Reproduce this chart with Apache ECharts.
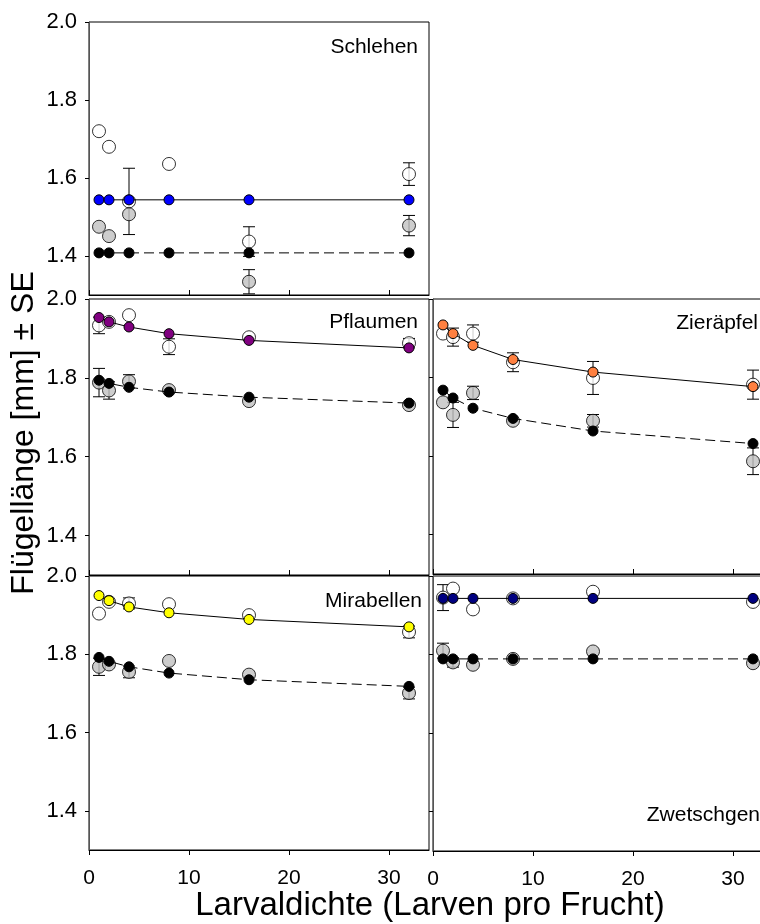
<!DOCTYPE html>
<html><head><meta charset="utf-8">
<script src="https://cdn.jsdelivr.net/npm/echarts@6/dist/echarts.min.js"></script>
<style>html,body{margin:0;padding:0;background:#fff}#c{width:760px;height:924px}</style>
</head><body><div id="c"></div>
<script>
// ---------- data ----------
const densities = [1, 2, 4, 8, 16, 32];
const xTicks = [0, 10, 20, 30];
const yTicks = [1.4, 1.6, 1.8, 2.0];
const panelNames = ['Schlehen', 'Pflaumen', 'Zieräpfel', 'Mirabellen', 'Zwetschgen'];
const fitColors = ['#0000ff', '#800080', '#ff8040', '#ffff00', '#000080'];
const yTitle = 'Flügellänge [mm] ± SE';
const xTitle = 'Larvaldichte (Larven pro Frucht)';

// Schlehen
const schlehenOpen   = [1.720, 1.680, 1.540, 1.636, 1.437, 1.610];
const schlehenOpenSE = [null, null, 0.085, null, 0.038, 0.029];
const schlehenGrey   = [1.475, 1.451, 1.507, null, 1.334, 1.478];
const schlehenGreySE = [null, null, null, null, 0.031, 0.026];
const schlehenFitA   = [1.544, 1.544, 1.544, 1.544, 1.544, 1.544];
const schlehenFitB   = [1.408, 1.408, 1.408, 1.408, 1.408, 1.408];

// Pflaumen
const pflaumenOpen   = [1.933, 1.942, 1.959, 1.879, 1.903, 1.888];
const pflaumenOpenSE = [0.021, null, null, 0.020, null, 0.012];
const pflaumenGrey   = [1.788, 1.768, 1.791, 1.769, 1.741, 1.731];
const pflaumenGreySE = [0.036, 0.022, 0.017, null, null, null];
const pflaumenFitA   = [1.953, 1.942, 1.929, 1.912, 1.895, 1.876];
const pflaumenFitB   = [1.794, 1.786, 1.776, 1.764, 1.751, 1.736];

// Zieräpfel
const zierOpen   = [1.912, 1.903, 1.912, 1.839, 1.799, 1.782];
const zierOpenSE = [null, 0.023, 0.022, 0.024, 0.042, 0.037];
const zierGrey   = [1.737, 1.705, 1.761, 1.690, 1.690, 1.587];
const zierGreySE = [null, 0.032, 0.017, null, 0.016, 0.034];
const zierFitA   = [1.934, 1.912, 1.882, 1.846, 1.814, 1.777];
const zierFitB   = [1.768, 1.748, 1.722, 1.696, 1.664, 1.632];

// Mirabellen
const miraOpen   = [1.904, 1.934, 1.930, 1.928, 1.900, 1.857];
const miraOpenSE = [null, null, 0.014, null, null, 0.015];
const miraGrey   = [1.768, 1.774, 1.755, 1.783, 1.748, 1.701];
const miraGreySE = [0.022, null, 0.015, null, null, 0.015];
const miraFitA   = [1.950, 1.937, 1.921, 1.906, 1.889, 1.870];
const miraFitB   = [1.792, 1.782, 1.768, 1.752, 1.735, 1.718];

// Zwetschgen
const zwetOpen   = [1.945, 1.968, 1.915, 1.943, 1.960, 1.934];
const zwetOpenSE = [0.033, null, null, null, null, null];
const zwetGrey   = [1.810, 1.780, 1.774, 1.789, 1.808, 1.778];
const zwetGreySE = [0.019, 0.012, null, null, null, null];
const zwetFitA   = [1.943, 1.943, 1.943, 1.943, 1.943, 1.943];
const zwetFitB   = [1.789, 1.789, 1.789, 1.789, 1.789, 1.789];

// ---------- layout ----------
const FONT = "'Liberation Sans', Arial, sans-serif";
const panels = [
  {open: schlehenOpen, openSE: schlehenOpenSE, grey: schlehenGrey, greySE: schlehenGreySE, fitA: schlehenFitA, fitB: schlehenFitB,
   grid: {left: 89, top: 22, width: 340, height: 273}, yLabels: true, xLabels: false, label: {x: 418, y: 47}},
  {open: pflaumenOpen, openSE: pflaumenOpenSE, grey: pflaumenGrey, greySE: pflaumenGreySE, fitA: pflaumenFitA, fitB: pflaumenFitB,
   grid: {left: 89, top: 299, width: 340, height: 276}, yLabels: true, xLabels: false, label: {x: 418, y: 322}},
  {open: zierOpen, openSE: zierOpenSE, grey: zierGrey, greySE: zierGreySE, fitA: zierFitA, fitB: zierFitB,
   grid: {left: 433, top: 299, width: 340, height: 275}, yLabels: false, xLabels: false, label: {x: 758, y: 323}},
  {open: miraOpen, openSE: miraOpenSE, grey: miraGrey, greySE: miraGreySE, fitA: miraFitA, fitB: miraFitB,
   grid: {left: 89, top: 576, width: 340, height: 274}, yLabels: true, xLabels: true, label: {x: 422, y: 601}},
  {open: zwetOpen, openSE: zwetOpenSE, grey: zwetGrey, greySE: zwetGreySE, fitA: zwetFitA, fitB: zwetFitB,
   grid: {left: 433, top: 576, width: 340, height: 275}, yLabels: false, xLabels: true, label: {x: 760, y: 815}}
];

function pairs(ys) {
  const out = [];
  densities.forEach((d, i) => { if (ys[i] != null) out.push([d, ys[i]]); });
  return out;
}
function errData(ys, ses) {
  const out = [];
  densities.forEach((d, i) => { if (ys[i] != null && ses[i] != null) out.push([d, ys[i], ses[i]]); });
  return out;
}
function errSeries(gi, data) {
  return {
    type: 'custom', xAxisIndex: gi, yAxisIndex: gi, data, encode: {x: 0, y: 1}, silent: true, z: 1,
    renderItem(params, api) {
      const x = api.value(0), y = api.value(1), s = api.value(2);
      const top = api.coord([x, y + s]), bot = api.coord([x, y - s]);
      const hw = 6;
      const st = {stroke: '#000', lineWidth: 1};
      return {type: 'group', children: [
        {type: 'line', shape: {x1: top[0], y1: top[1], x2: bot[0], y2: bot[1]}, style: st},
        {type: 'line', shape: {x1: top[0] - hw, y1: top[1], x2: top[0] + hw, y2: top[1]}, style: st},
        {type: 'line', shape: {x1: bot[0] - hw, y1: bot[1], x2: bot[0] + hw, y2: bot[1]}, style: st}
      ]};
    }
  };
}

const grids = [], xAxes = [], yAxes = [], series = [], graphics = [];
panels.forEach((p, gi) => {
  grids.push(Object.assign({show: true, borderColor: '#000', borderWidth: 1, backgroundColor: '#fff',
    containLabel: false, outerBoundsMode: 'none'}, p.grid));
  xAxes.push({
    type: 'value', gridIndex: gi, min: 0, max: 34,
    axisLine: {show: true, lineStyle: {color: '#000', width: 1}},
    axisTick: {show: true, inside: !p.xLabels, length: 5, customValues: xTicks, lineStyle: {color: '#000'}},
    axisLabel: {show: p.xLabels, customValues: xTicks, fontSize: 21, color: '#000', fontFamily: FONT, margin: 18},
    splitLine: {show: false}
  });
  yAxes.push({
    type: 'value', gridIndex: gi, min: 1.3, max: 2.0,
    axisLine: {show: true, lineStyle: {color: '#555', width: 1}},
    axisTick: {show: true, inside: false, length: 4, customValues: yTicks, lineStyle: {color: '#000'}},
    axisLabel: {show: p.yLabels, customValues: yTicks, fontSize: 22, color: '#000', fontFamily: FONT, margin: 12,
      formatter: v => Number(v).toFixed(1)},
    splitLine: {show: false}
  });
  series.push(errSeries(gi, errData(p.open, p.openSE)));
  series.push(errSeries(gi, errData(p.grey, p.greySE)));
  series.push({type: 'scatter', xAxisIndex: gi, yAxisIndex: gi, data: pairs(p.open), symbol: 'circle', symbolSize: 13,
    itemStyle: {color: '#ffffff', borderColor: '#000', borderWidth: 1}, z: 2, silent: true});
  series.push({type: 'scatter', xAxisIndex: gi, yAxisIndex: gi, data: pairs(p.grey), symbol: 'circle', symbolSize: 13,
    itemStyle: {color: '#c0c0c0', borderColor: '#000', borderWidth: 1}, z: 2, silent: true});
  series.push({type: 'line', xAxisIndex: gi, yAxisIndex: gi, data: pairs(p.fitB), symbol: 'circle', symbolSize: 10,
    showSymbol: true, itemStyle: {color: '#000', borderColor: '#000', borderWidth: 1},
    lineStyle: {color: '#000', width: 1, type: [10, 5]}, z: 3, silent: true});
  series.push({type: 'line', xAxisIndex: gi, yAxisIndex: gi, data: pairs(p.fitA), symbol: 'circle', symbolSize: 10,
    showSymbol: true, itemStyle: {color: fitColors[gi], borderColor: '#000', borderWidth: 1},
    lineStyle: {color: '#000', width: 1, type: 'solid'}, z: 3, silent: true});
  graphics.push({type: 'text', x: p.label.x, y: p.label.y, z: 100,
    style: {text: panelNames[gi], fontSize: 21, fontFamily: FONT, fill: '#000', align: 'right', verticalAlign: 'middle'}});
});

graphics.push({type: 'text', x: 24, y: 433, rotation: Math.PI / 2, z: 100,
  style: {text: yTitle, fontSize: 32, fontFamily: FONT, fill: '#000', align: 'center', verticalAlign: 'middle'}});
graphics.push({type: 'text', x: 430, y: 906, z: 100,
  style: {text: xTitle, fontSize: 33, fontFamily: FONT, fill: '#000', align: 'center', verticalAlign: 'middle'}});

const chart = echarts.init(document.getElementById('c'), null, {renderer: 'canvas'});
chart.setOption({
  animation: false,
  backgroundColor: '#fff',
  grid: grids, xAxis: xAxes, yAxis: yAxes, series, graphic: graphics
});
</script></body></html>
